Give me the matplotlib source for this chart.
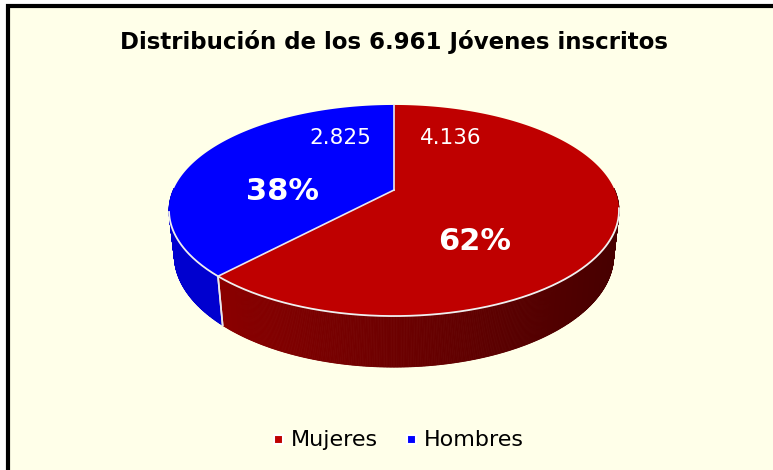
import numpy as np
import matplotlib.pyplot as plt
from matplotlib.patches import Polygon, Rectangle

# data
labels = ['Mujeres', 'Hombres']
pct_values = [62, 38]
count_labels = ['4.136', '2.825']
pct_labels = ['62%', '38%']
title = 'Distribución de los 6.961 Jóvenes inscritos'

top_colors = ['#bf0000', '#0000ff']
bg = '#ffffe9'

# 3d pie view (pixels): pie centre, focal length, camera distance, elevation, thickness
cx, cy = 394, 190
f_len = 1008.6
dist = 4.57
elev = np.radians(27.4)
thick = 0.231

fig = plt.figure(figsize=(7.73, 4.70), dpi=100)
fig.patch.set_facecolor('white')
ax = fig.add_axes([0, 0, 1, 1])
ax.set_xlim(0, 773)
ax.set_ylim(470, 0)
ax.axis('off')

# chart area with border
ax.add_patch(Rectangle((7.5, 5.5), 800, 500, facecolor=bg, edgecolor='black', lw=3, zorder=0))


def proj(X, Y, Z=0.0):
    d = dist + Y * np.cos(elev) - Z * np.sin(elev)
    u = Y * np.sin(elev) + Z * np.cos(elev)
    return cx + f_len * X / d, cy - f_len * u / d


def pt(th, Z=0.0):
    t = np.radians(th)
    return proj(np.cos(t), np.sin(t), Z)


total = sum(pct_values)
fracs = [v / total for v in pct_values]
# clockwise from the top
starts, ends = [], []
ang = 90.0
for f in fracs:
    starts.append(ang)
    ang -= f * 360
    ends.append(ang)


def owner(th):
    # which slice holds angle th
    t = (90 - th) % 360
    acc = 0
    for i, fr in enumerate(fracs):
        acc += fr * 360
        if t < acc:
            return i
    return len(fracs) - 1


# side wall, drawn far to near
side_red_l = np.array([0x8a, 0x00, 0x00]) / 255
side_red_r = np.array([0x48, 0x00, 0x00]) / 255
side_blue = '#0000cf'
ths = np.linspace(179, 361, 600)
segs = []
for t0, t1 in zip(ths[:-1], ths[1:]):
    tm = (t0 + t1) / 2
    segs.append((np.sin(np.radians(tm)), t0, t1))
segs.sort(key=lambda s: -s[0])
for _, t0, t1 in segs:
    x0, y0 = pt(t0)
    x1, y1 = pt(t1)
    x2, y2 = pt(t1, -thick)
    x3, y3 = pt(t0, -thick)
    i = owner((t0 + t1) / 2)
    if i == 0:
        u = np.clip(((x0 + x1) / 2 - 220) / (612 - 220), 0, 1)
        col = side_red_l * (1 - u) + side_red_r * u
    else:
        col = side_blue
    ax.add_patch(Polygon([(x0, y0), (x1, y1), (x2, y2), (x3, y3)], closed=True,
                         facecolor=col, edgecolor=col, lw=0.6, zorder=2))

# vertical separators on the visible side
for e in ends[:-1] + starts:
    th = e % 360
    if 190 < th < 350:
        x, y = pt(th)
        xb, yb = pt(th, -thick)
        ax.plot([x, xb], [y, yb], color='#e8e8f0', lw=1.2, zorder=3)

# top faces
for i, (s, e) in enumerate(zip(starts, ends)):
    tt = np.linspace(s, e, 300)
    pts = [proj(0, 0)] + [pt(t) for t in tt]
    ax.add_patch(Polygon(pts, closed=True, facecolor=top_colors[i], edgecolor='none', zorder=4))

# white rim along the front edge and radial separators
tt = np.linspace(192, 350, 300)
rim = np.array([pt(t) for t in tt])
ax.plot(rim[:, 0], rim[:, 1], color='#f0f0f0', lw=1.3, zorder=5)
x0, y0 = proj(0, 0)
for s in starts:
    x, y = pt(s)
    ax.plot([x0, x], [y0, y], color='#e8e8f0', lw=1.2, zorder=5)

# labels
ax.text(475, 241, pct_labels[0], color='white', fontsize=22, fontweight='bold',
        ha='center', va='center', zorder=6)
ax.text(283, 192, pct_labels[1], color='white', fontsize=22, fontweight='bold',
        ha='center', va='center', zorder=6)
ax.text(451, 138, count_labels[0], color='white', fontsize=15.5,
        ha='center', va='center', zorder=6)
ax.text(340, 138, count_labels[1], color='white', fontsize=15.5,
        ha='center', va='center', zorder=6)

ax.text(394, 42, title, fontsize=16.5, fontweight='bold', ha='center', va='center', zorder=6)

# legend
leg_x = [274, 407]
for i, lab in enumerate(labels):
    ax.add_patch(Rectangle((leg_x[i], 435), 9, 9, facecolor=top_colors[i],
                           edgecolor='white', lw=1.5, zorder=6))
    ax.text(leg_x[i] + 17, 440, lab, fontsize=16, ha='left', va='center', zorder=6)

fig.savefig('out.png', dpi=100, facecolor=fig.get_facecolor())
